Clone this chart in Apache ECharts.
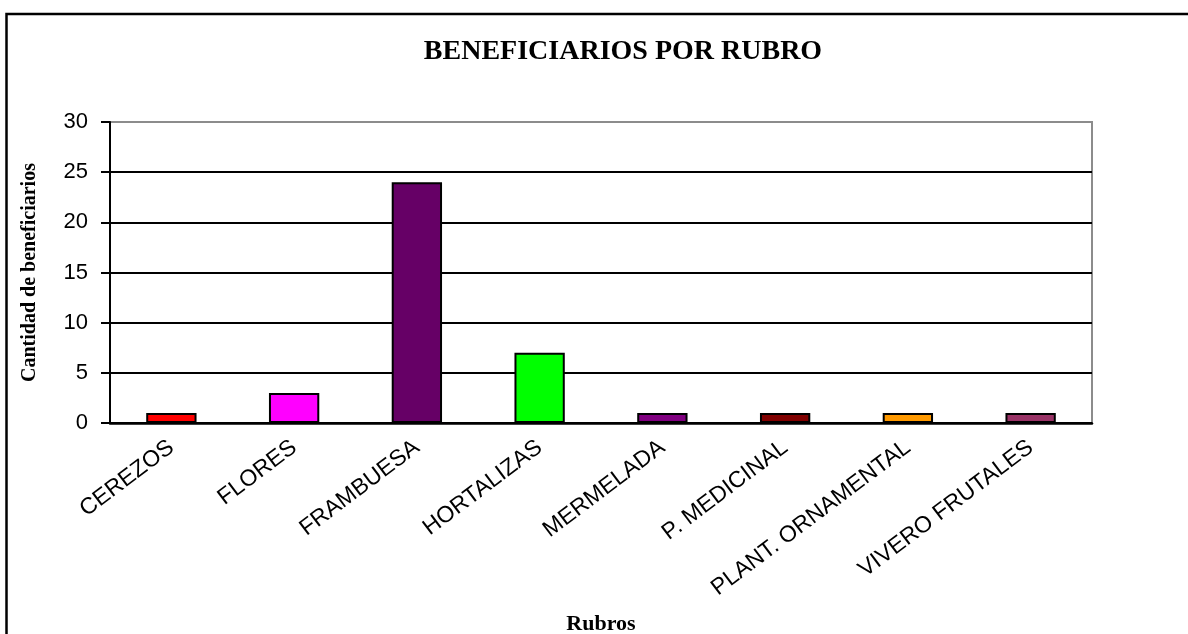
<!DOCTYPE html>
<html>
<head>
<meta charset="utf-8">
<script src="https://cdn.jsdelivr.net/npm/echarts@6/dist/echarts.min.js"></script>
<style>
  html, body { margin: 0; padding: 0; background: #fff; }
  #main { width: 1188px; height: 634px; }
</style>
</head>
<body>
<div id="main"></div>
<script>
var rubros = ['CEREZOS', 'FLORES', 'FRAMBUESA', 'HORTALIZAS', 'MERMELADA', 'P. MEDICINAL', 'PLANT. ORNAMENTAL', 'VIVERO FRUTALES'];
var beneficiarios = [1, 3, 24, 7, 1, 1, 1, 1];
var colores = ['#ff0000', '#ff00ff', '#660066', '#00ff00', '#800080', '#800000', '#ff9900', '#993366'];

var myChart = echarts.init(document.getElementById('main'));

var barData = beneficiarios.map(function (v, i) {
    return { value: v, itemStyle: { color: colores[i] } };
});

var option = {
    backgroundColor: '#fff',
    animation: false,
    title: {
        text: 'BENEFICIARIOS POR RUBRO',
        left: 618,
        top: 33,
        textAlign: 'center',
        textStyle: {
            fontFamily: 'Liberation Serif',
            fontWeight: 'bold',
            fontSize: 28,
            color: '#000'
        }
    },
    graphic: [{
        type: 'rect',
        shape: { x: 6.5, y: 14, width: 1200, height: 640 },
        style: { fill: 'none', stroke: '#000', lineWidth: 2.5 },
        silent: true
    }],
    grid: {
        left: 110,
        top: 122,
        right: 96,
        bottom: 211,
        outerBoundsMode: 'none',
        containLabel: false,
        show: true,
        borderColor: '#8c8c8c',
        borderWidth: 2
    },
    xAxis: {
        type: 'category',
        data: rubros,
        name: 'Rubros',
        nameLocation: 'middle',
        nameGap: 190,
        nameTextStyle: {
            fontFamily: 'Liberation Serif',
            fontWeight: 'bold',
            fontSize: 22,
            color: '#000'
        },
        axisLine: { lineStyle: { color: '#000', width: 2.5 } },
        axisTick: { length: 6, lineStyle: { color: '#000', width: 2 } },
        axisLabel: {
            interval: 0,
            rotate: 37,
            margin: 22,
            fontFamily: 'Liberation Sans',
            fontSize: 23,
            color: '#000'
        }
    },
    yAxis: {
        type: 'value',
        min: 0,
        max: 30,
        interval: 5,
        name: 'Cantidad de beneficiarios',
        nameLocation: 'middle',
        nameGap: 70,
        nameTextStyle: {
            fontFamily: 'Liberation Serif',
            fontWeight: 'bold',
            fontSize: 20,
            color: '#000'
        },
        axisLine: { show: true, lineStyle: { color: '#000', width: 2 } },
        axisTick: { show: true, length: 9, lineStyle: { color: '#000', width: 2 } },
        axisLabel: {
            margin: 22,
            fontFamily: 'Liberation Sans',
            fontSize: 22,
            color: '#000'
        },
        splitLine: {
            lineStyle: {
                color: ['#000', '#000', '#000', '#000', '#000', '#000', '#8c8c8c'],
                width: 2
            }
        }
    },
    series: [{
        type: 'bar',
        data: barData,
        barWidth: '41%',
        itemStyle: { borderColor: '#000', borderWidth: 2 }
    }]
};

myChart.setOption(option);
</script>
</body>
</html>
